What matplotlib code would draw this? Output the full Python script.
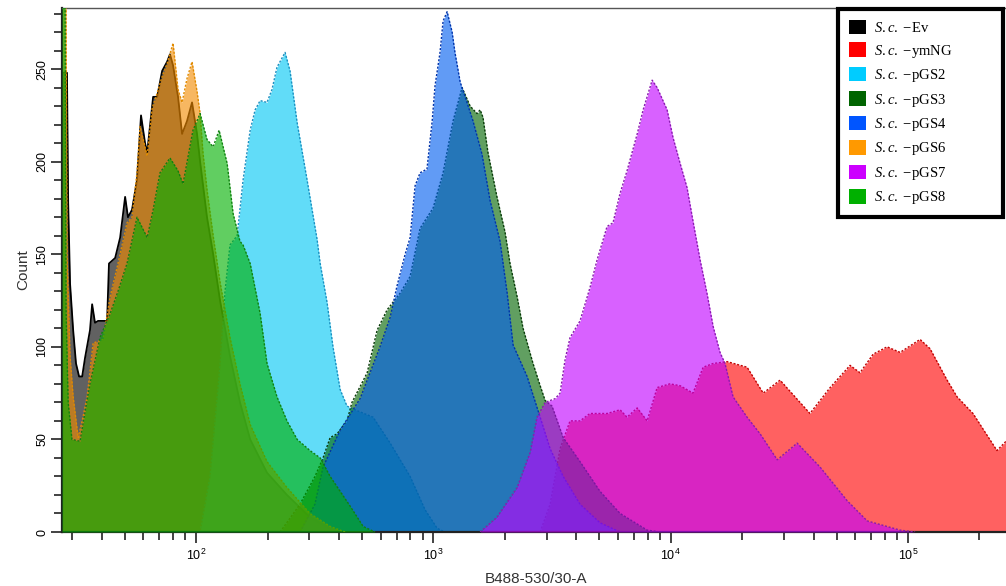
import numpy as np
import matplotlib
matplotlib.use("Agg")
import matplotlib.pyplot as plt
from matplotlib.patches import Patch
from matplotlib.ticker import LogLocator, MultipleLocator

plt.rcParams["font.family"] = ["Liberation Sans", "DejaVu Sans"]
plt.rcParams["mathtext.fontset"] = "custom"
plt.rcParams["mathtext.rm"] = "Liberation Serif"
plt.rcParams["mathtext.it"] = "Liberation Serif:italic"

# ---- histogram data: log10(B488-530/30-A) vs. event count ----
ev_log = [1.435, 1.456, 1.461, 1.469, 1.482, 1.494, 1.507, 1.520, 1.532, 1.553,
          1.562, 1.574, 1.587, 1.625, 1.633, 1.659, 1.680, 1.701, 1.713, 1.730,
          1.751, 1.768, 1.785, 1.794, 1.819, 1.836, 1.857, 1.878, 1.890, 1.903,
          1.924, 1.941, 1.962, 1.983, 2.004, 2.017, 2.046, 2.072, 2.101, 2.143,
          2.185, 2.228, 2.299, 2.383, 2.480, 2.565, 2.628]
ev_cnt = [248, 248, 178, 134, 109, 91, 84, 84, 94, 109,
          123, 113, 114, 114, 145, 148, 159, 181, 170, 174,
          190, 225, 210, 205, 235, 235, 249, 254, 258, 252,
          235, 215, 222, 232, 215, 200, 170, 150, 125, 95,
          70, 50, 32, 20, 8, 2, 0]

ymng_log = [3.450, 3.492, 3.534, 3.576, 3.618, 3.660, 3.732, 3.787, 3.816, 3.859,
            3.901, 3.943, 3.997, 4.040, 4.094, 4.137, 4.179, 4.238, 4.322, 4.390,
            4.461, 4.587, 4.672, 4.756, 4.798, 4.853, 4.912, 4.967, 5.051, 5.093,
            5.165, 5.207, 5.274, 5.375, 5.421]
ymng_cnt = [0, 15, 45, 60, 60, 64, 64, 66, 62, 67,
            60, 78, 80, 79, 75, 89, 91, 92, 89, 75,
            82, 64, 78, 90, 86, 96, 100, 97, 104, 99,
            82, 73, 64, 44, 50]

pgs2_log = [2.017, 2.059, 2.101, 2.122, 2.143, 2.173, 2.198, 2.228, 2.249, 2.270,
            2.299, 2.320, 2.341, 2.375, 2.396, 2.426, 2.468, 2.510, 2.523, 2.552,
            2.577, 2.607, 2.636, 2.670, 2.746, 2.818, 2.902, 2.965, 3.016, 3.049]
pgs2_cnt = [0, 30, 90, 130, 155, 160, 190, 217, 228, 233,
            232, 239, 251, 259, 249, 221, 190, 158, 145, 124,
            100, 77, 68, 66, 62, 48, 30, 12, 2, 0]

pgs3_log = [2.354, 2.438, 2.501, 2.535, 2.565, 2.594, 2.636, 2.657, 2.721, 2.763,
            2.805, 2.860, 2.902, 2.944, 2.999, 3.041, 3.083, 3.121, 3.155, 3.184,
            3.197, 3.209, 3.230, 3.268, 3.302, 3.323, 3.353, 3.378, 3.420, 3.450,
            3.471, 3.500, 3.547, 3.618, 3.702, 3.787, 3.901, 3.955]
pgs3_cnt = [0, 15, 30, 40, 51, 53, 60, 70, 86, 109,
            120, 129, 138, 164, 175, 194, 222, 240, 230, 226,
            228, 224, 205, 181, 162, 145, 127, 110, 91, 79,
            71, 68, 51, 38, 22, 10, 1, 0]

pgs4_log = [2.438, 2.501, 2.535, 2.607, 2.691, 2.775, 2.818, 2.847, 2.881, 2.902,
            2.923, 2.944, 2.973, 2.995, 3.007, 3.028, 3.041, 3.058, 3.079, 3.091,
            3.113, 3.134, 3.167, 3.205, 3.239, 3.281, 3.311, 3.336, 3.395, 3.450,
            3.492, 3.547, 3.618, 3.702, 3.787]
pgs4_cnt = [0, 15, 35, 55, 72, 100, 116, 133, 150, 159,
            187, 194, 196, 222, 241, 259, 276, 281, 270, 259,
            243, 235, 222, 204, 179, 157, 129, 101, 84, 62,
            45, 30, 15, 5, 0]

pgs6_log = [1.435, 1.452, 1.456, 1.469, 1.482, 1.503, 1.520, 1.541, 1.566, 1.608,
            1.638, 1.671, 1.709, 1.730, 1.751, 1.764, 1.794, 1.815, 1.836, 1.857,
            1.878, 1.903, 1.924, 1.941, 1.962, 1.983, 2.004, 2.017, 2.029, 2.046,
            2.072, 2.101, 2.143, 2.185, 2.228, 2.299, 2.383, 2.480, 2.565, 2.628]
pgs6_cnt = [290, 290, 150, 95, 73, 51, 60, 73, 102, 104,
            127, 145, 167, 170, 194, 219, 203, 229, 237, 246,
            253, 264, 239, 232, 245, 254, 238, 226, 205, 185,
            160, 135, 105, 80, 58, 38, 24, 10, 3, 0]

pgs7_log = [3.197, 3.268, 3.353, 3.408, 3.437, 3.471, 3.513, 3.534, 3.555, 3.576,
            3.618, 3.660, 3.690, 3.732, 3.757, 3.787, 3.816, 3.859, 3.884, 3.922,
            3.943, 3.985, 4.010, 4.040, 4.069, 4.094, 4.124, 4.153, 4.179, 4.208,
            4.229, 4.263, 4.322, 4.377, 4.449, 4.533, 4.630, 4.743, 4.828, 4.967,
            5.030]
pgs7_cnt = [0, 8, 24, 43, 62, 70, 72, 75, 93, 105,
            114, 132, 147, 165, 167, 183, 195, 215, 228, 244,
            240, 228, 213, 199, 186, 168, 147, 129, 111, 97,
            91, 73, 62, 53, 39, 48, 35, 17, 6, 1,
            0]

pgs8_log = [1.435, 1.448, 1.452, 1.461, 1.477, 1.511, 1.553, 1.595, 1.638, 1.671,
            1.709, 1.751, 1.794, 1.819, 1.848, 1.890, 1.924, 1.945, 1.987, 2.017,
            2.046, 2.072, 2.097, 2.131, 2.156, 2.185, 2.198, 2.228, 2.270, 2.299,
            2.341, 2.383, 2.426, 2.480, 2.523, 2.565, 2.607, 2.649, 2.704, 2.754]
pgs8_cnt = [290, 290, 120, 70, 50, 49, 80, 105, 118, 130,
            145, 170, 159, 174, 194, 202, 195, 188, 217, 226,
            212, 208, 217, 199, 172, 157, 155, 145, 118, 91,
            73, 60, 50, 44, 40, 30, 22, 14, 3, 0]

labels = ["Ev", "ymNG", "pGS2", "pGS3", "pGS4", "pGS6", "pGS7", "pGS8"]
fill_colors = ["#000000", "#ff0000", "#00c7f5", "#006400",
               "#005eef", "#f38c00", "#c000ff", "#00b000"]
edge_colors = ["#000000", "#c00000", "#1a8fc0", "#0a3a0a",
               "#0033aa", "#e08a00", "#8a1ab0", "#108010"]
legend_colors = ["#000000", "#ff0000", "#00ccff", "#006400",
                 "#0055ff", "#ff9900", "#cc00ff", "#00b000"]
series = [(ev_log, ev_cnt), (ymng_log, ymng_cnt), (pgs2_log, pgs2_cnt),
          (pgs3_log, pgs3_cnt), (pgs4_log, pgs4_cnt), (pgs6_log, pgs6_cnt),
          (pgs7_log, pgs7_cnt), (pgs8_log, pgs8_cnt)]

W, H = 1006, 586
fig = plt.figure(figsize=(W / 100, H / 100), dpi=100)
ax = fig.add_axes([62 / W, 1 - 532 / H, (1010 - 62) / W, (532 - 8) / H])

# each overlay (fill + dotted outline) sits on top of the previous ones
for i, ((lg, cnt), fc, ec, name) in enumerate(zip(series, fill_colors, edge_colors, labels)):
    fl = 10 ** np.asarray(lg)
    cnt = np.asarray(cnt, dtype=float)
    z = 2 + i * 0.1
    ax.fill_between(fl, cnt, 0, color=fc, alpha=0.62, lw=0, zorder=z)
    if name == "Ev":
        ax.plot(fl, cnt, color=ec, lw=1.3, zorder=z + 0.05)
    else:
        ax.plot(fl, cnt, color=ec, lw=1.0, ls=(0, (1.5, 1.2)), zorder=z + 0.05)

ax.set_xscale("log")
ax.set_xlim(10 ** 1.435, 10 ** 5.43)
ax.set_ylim(0, 283)

ax.xaxis.set_major_locator(LogLocator(base=10, numticks=10))
ax.xaxis.set_minor_locator(LogLocator(base=10, subs=np.arange(2, 10), numticks=20))
ax.yaxis.set_major_locator(MultipleLocator(50))
ax.yaxis.set_minor_locator(MultipleLocator(10))

ax.tick_params(axis="both", which="major", direction="out", length=8, width=1.2,
               labelsize=9, color="#222222")
ax.tick_params(axis="both", which="minor", direction="out", length=6, width=1.2,
               color="#222222")
ax.tick_params(axis="y", labelrotation=90, pad=2)
for lab in ax.get_yticklabels():
    lab.set_va("center")

for side in ("left", "bottom"):
    ax.spines[side].set_linewidth(1.6)
    ax.spines[side].set_color("#222222")
ax.spines["top"].set_linewidth(1.0)
ax.spines["top"].set_color("#555555")
ax.spines["right"].set_visible(False)

ax.set_xlabel("B488-530/30-A", fontsize=11, labelpad=6, color="#333333")
ax.set_ylabel("Count", fontsize=11, labelpad=4, color="#333333")

handles = [Patch(facecolor=c, edgecolor="none") for c in legend_colors]
names = [r"$\mathit{S{.}c{.}}$ $-$" + n for n in labels]
leg_box = (838 / W, 1 - 219 / H, (1003 - 838) / W, (219 - 9) / H)
leg = fig.legend(handles, names, loc="upper left", bbox_to_anchor=leg_box,
                 mode="expand", bbox_transform=fig.transFigure, frameon=True,
                 fancybox=False, edgecolor="black", framealpha=1, borderaxespad=0,
                 handlelength=1.15, handleheight=1.15, handletextpad=0.55,
                 labelspacing=0.5, borderpad=0.75,
                 prop={"family": "Liberation Serif", "size": 10.5})
leg.get_frame().set_linewidth(3.0)
leg.set_zorder(10)

fig.savefig("out.png", dpi=100)
